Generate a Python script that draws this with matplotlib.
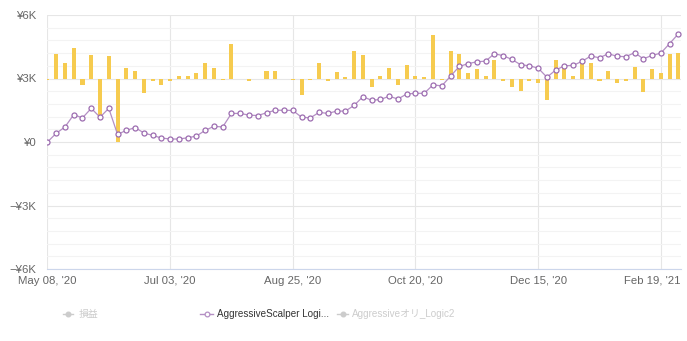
import numpy as np
import matplotlib.pyplot as plt
import matplotlib.transforms as mtransforms
from matplotlib.lines import Line2D

plt.rcParams['font.family'] = ['Liberation Sans', 'Noto Sans CJK JP', 'DejaVu Sans']

# weekly points, labelled every 14th
tick_idx = [0, 14, 28, 42, 56, 70]
tick_labels = ["May 08, '20", "Jul 03, '20", "Aug 25, '20", "Oct 20, '20", "Dec 15, '20", "Feb 19, '21"]

# 損益 per period (yen, secondary scale)
profit = [-24, 464, 292, 572, -116, 444, -776, 424, -1200, 192,
          140, -268, -56, -128, -44, 40, 56, 96, 292, 192,
          -20, 660, 0, -52, 0, 140, 140, 0, -20, -304,
          -20, 292, -52, 120, 24, 520, 444, -164, 40, 192,
          -116, 252, 40, 20, 824, -32, 520, 464, 96, 172,
          56, 348, -56, -164, -228, -40, -88, -412, 348, 196,
          40, 324, 292, -56, 148, -88, -56, 208, -252, 172,
          96, 464, 484]

# AggressiveScalper cumulative (yen)
scalper = [0, 410, 710, 1290, 1140, 1590, 1170, 1590, 360, 550,
           680, 430, 310, 190, 140, 140, 200, 280, 550, 740,
           710, 1350, 1350, 1270, 1250, 1380, 1500, 1500, 1490, 1170,
           1140, 1400, 1350, 1460, 1460, 1730, 2140, 1970, 2010, 2160,
           2030, 2270, 2300, 2300, 2700, 2650, 3110, 3570, 3700, 3790,
           3820, 4170, 4080, 3900, 3650, 3600, 3490, 3060, 3400, 3600,
           3620, 3810, 4060, 3980, 4170, 4050, 4030, 4220, 3930, 4090,
           4200, 4650, 5110]

x = np.arange(len(scalper))

fig = plt.figure(figsize=(6.87, 3.41), dpi=100)
ax = fig.add_axes([47 / 687, 1 - 269 / 341, 634 / 687, 254 / 341])

ax.set_xlim(-0.05, 72.3)
ax.set_ylim(-6000, 6000)
ax.set_yticks([-6000, -3000, 0, 3000, 6000])
ax.set_yticklabels(['\u2212¥6K', '\u2212¥3K', '¥0', '¥3K', '¥6K'])
ax.set_yticks(np.arange(-6000, 6001, 600), minor=True)
ax.set_xticks(tick_idx)
ax.set_xticklabels(tick_labels)
ax.grid(True, which='major', axis='both', color='#e6e6e6', lw=0.8)
ax.grid(True, which='minor', axis='y', color='#f3f3f3', lw=0.8)
ax.tick_params(axis='both', which='both', length=0, colors='#666666', labelsize=8.2)
ax.tick_params(axis='y', pad=8)
ax.tick_params(axis='x', pad=5)
for s in ['top', 'right', 'left']:
    ax.spines[s].set_visible(False)
ax.spines['bottom'].set_color('#ccd6eb')
ax.spines['bottom'].set_linewidth(0.8)

# keep the last date inside the figure
last = ax.get_xticklabels()[-1]
last.set_ha('right')
last.set_transform(last.get_transform() +
                   mtransforms.ScaledTranslation(0.20, 0, fig.dpi_scale_trans))

# bars on their own hidden scale, zero level with ¥3K
axb = ax.twinx()
axb.set_ylim(-3600, 1200)
axb.bar(x, profit, width=0.46, color='#f6cb4f')
axb.axis('off')

axl = ax.twinx()
axl.set_ylim(-6000, 6000)
axl.plot(x, scalper, color='#b48fc4', lw=0.9, marker='o', ms=3.6,
         mfc='white', mec='#9c6cb0', mew=0.9)
axl.axis('off')
axl.set_xlim(ax.get_xlim())
axb.set_xlim(ax.get_xlim())

# legend row
ly = 1 - 314 / 341
items = [
    (63, 73, 79, '損益', '#cccccc', '#cccccc', '#cccccc'),
    (200, 213, 217, 'AggressiveScalper Logi...', '#b48fc4', 'white', '#333333'),
    (337, 348, 352, 'Aggressiveオリ_Logic2', '#cccccc', '#cccccc', '#cccccc'),
]
for x0, x1, tx, label, lc, fc, tc in items:
    fig.add_artist(Line2D([x0 / 687, x1 / 687], [ly, ly], transform=fig.transFigure,
                          color=lc, lw=1))
    fig.add_artist(Line2D([(x0 + x1) / 2 / 687], [ly], transform=fig.transFigure,
                          marker='o', ms=3.4, mfc=fc, mec=lc, mew=0.9))
    fig.text(tx / 687, ly, label, color=tc, fontsize=7.1, va='center', ha='left')

fig.savefig('out.png', dpi=100)
